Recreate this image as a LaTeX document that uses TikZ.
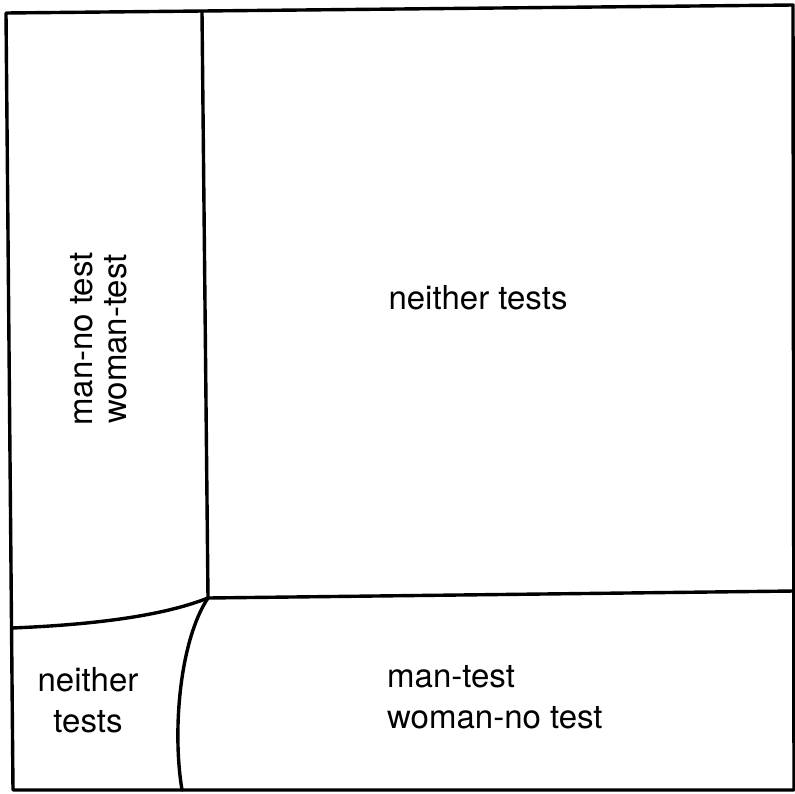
\documentclass[tikz,border=0pt]{standalone}
\usepackage{fontspec}
\setmainfont{TeX Gyre Heros}
\begin{document}
\begin{tikzpicture}[x=1pt,y=-1pt,
  edge/.style={line width=3.4pt, line join=round, line cap=round},
  lbl/.style={font=\fontsize{33}{41}\selectfont, inner sep=0pt}]
\useasboundingbox (0,0) rectangle (795,793);
% corners
\coordinate (tl) at (6,13);
\coordinate (tr) at (793,5);
\coordinate (br) at (794,790);
\coordinate (bl) at (13,790);
\coordinate (vt) at (202,12);
\coordinate (J) at (208,598);
\coordinate (hr) at (794,591);
\coordinate (cl) at (12,628);
\coordinate (cb) at (182,790);
% frame
\draw[edge] (tl) -- (tr) -- (br) -- (bl) -- cycle;
% dividers
\draw[edge] (vt) -- (J) -- (hr);
\draw[edge] (cl) .. controls (110,624) and (170,613) .. (J);
\draw[edge] (J) .. controls (180,640) and (172,730) .. (cb);
% labels
\node[lbl] (n1) at (478,298) {neither tests};
\node[lbl, align=left, anchor=west] (n2) at (387,697) {man-test\\woman-no test};
\node[lbl, align=center] (n3) at (88,700) {neither\\tests};
\node[lbl, align=center, rotate=90, font=\fontsize{33}{34}\selectfont] (n4) at (99,339) {man-no test\\woman-test};
\end{tikzpicture}
\end{document}
